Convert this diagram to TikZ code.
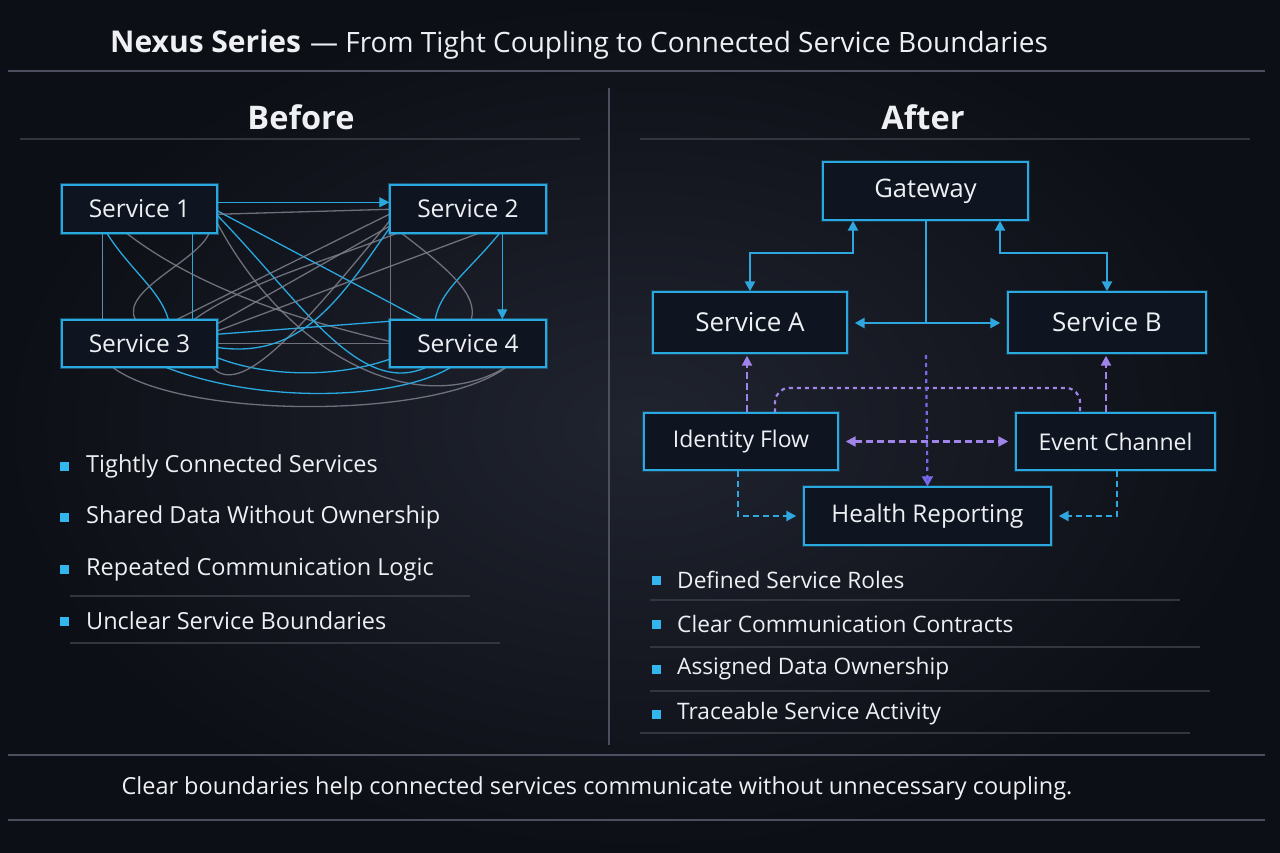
\documentclass[tikz,border=0pt]{standalone}
\usepackage{fontspec}
\setmainfont{Open Sans}
\usetikzlibrary{arrows.meta,calc}
\definecolor{bgmid}{HTML}{20242F}
\definecolor{bgout}{HTML}{0D0F16}
\definecolor{boxfill}{HTML}{0E1520}
\definecolor{cyanb}{HTML}{2AA8E0}
\definecolor{txt}{HTML}{EEF0F4}
\definecolor{sep}{HTML}{4C505E}
\definecolor{sepdim}{HTML}{32363F}
\definecolor{grayl}{HTML}{7E818D}
\definecolor{mixl}{HTML}{5C8FB4}
\definecolor{purp}{HTML}{A084EA}
\definecolor{indig}{HTML}{5B58E6}
\definecolor{bluel}{HTML}{2FA6DE}
\definecolor{bulc}{HTML}{33B6EE}
\begin{document}
\begin{tikzpicture}[x=1pt,y=-1pt,
  box/.style={draw=cyanb, line width=1.4pt, fill=boxfill, text=txt, inner sep=0pt,
    preaction={draw=cyanb, line width=4.5pt, draw opacity=0.22},
    font=\fontsize{24.5}{28}\selectfont},
  tg/.style={draw=grayl, line width=1.3pt, draw opacity=0.85},
  tb/.style={draw=cyanb, line width=1.3pt},
  tm/.style={draw=mixl, line width=1.3pt},
  flow/.style={draw=bluel, line width=2.4pt},
  tip/.style={-{Triangle[length=10pt,width=10pt]}},
  tips/.style={{Triangle[length=10pt,width=10pt]}-{Triangle[length=10pt,width=10pt]}},
  pdash/.style={draw=purp, line width=2.2pt, dash pattern=on 7pt off 4pt},
  pdot/.style={draw=purp, line width=2.2pt, dash pattern=on 4pt off 4pt},
  bdash/.style={draw=bluel, line width=2.2pt, dash pattern=on 6pt off 4pt},
  bullet/.style={fill=bulc, minimum size=9pt, inner sep=0pt},
  btext/.style={anchor=west, text=txt, inner sep=0pt, font=\fontsize{23.5}{27}\selectfont},
  rtext/.style={btext, font=\fontsize{22.7}{26}\selectfont},
  head/.style={text=txt, font=\fontsize{32.5}{36}\selectfont\bfseries},
  seph/.style={draw=sep, line width=2.6pt},
  sepl/.style={draw=sepdim, line width=1.6pt}
]
% background
\shade[inner color=bgmid, outer color=bgout] (0,0) rectangle (1280,853);
\useasboundingbox (0,0) rectangle (1280,853);

% title and frame lines
\node[anchor=base west, text=txt, inner sep=0pt] (title) at (110,53)
  {{\fontsize{30}{34}\selectfont\bfseries Nexus Series}\hspace{9pt}{\fontsize{28}{32}\selectfont — From Tight Coupling to Connected Service Boundaries}};
\coordinate (tl) at (8,71); \coordinate (tr) at (1265,71);
\draw[seph] (tl) -- (tr);
\coordinate (dv1) at (609,88); \coordinate (dv2) at (609,745);
\draw[draw=sep, line width=1.6pt] (dv1) -- (dv2);
\coordinate (bl1) at (8,755); \coordinate (br1) at (1265,755);
\coordinate (bl2) at (8,820); \coordinate (br2) at (1265,820);
\draw[seph] (bl1) -- (br1);
\draw[seph] (bl2) -- (br2);
\node[text=txt, inner sep=0pt] (foot) at (597,788)
  {\fontsize{23.5}{27}\selectfont Clear boundaries help connected services communicate without unnecessary coupling.};

% section heads
\node[head] (before) at (301,117) {Before};
\node[head] (after) at (923,117) {After};
\coordinate (u1a) at (20,139); \coordinate (u1b) at (580,139);
\coordinate (u2a) at (640,139); \coordinate (u2b) at (1250,139);
\draw[sepl] (u1a) -- (u1b);
\draw[sepl] (u2a) -- (u2b);

% ---------- BEFORE ----------
\node[box, minimum width=155pt, minimum height=48pt] (s1) at (139.5,209) {Service 1};
\node[box, minimum width=156pt, minimum height=48pt] (s2) at (468,209) {Service 2};
\node[box, minimum width=155pt, minimum height=47pt] (s3) at (139.5,343.5) {Service 3};
\node[box, minimum width=156pt, minimum height=47pt] (s4) at (468,343.5) {Service 4};

\draw[tm] ($(s1.north west)+(41,48)$) -- ($(s3.north west)+(41,0)$);
\draw[tb] ($(s1.north west)+(131,48)$) -- ($(s3.north west)+(131,0)$);
\draw[tg] ($(s2.north west)+(1,48)$) -- ($(s4.north west)+(1,0)$);
\draw[tb,tip] ($(s2.north west)+(113,48)$) -- ($(s4.north west)+(113,0)$);
\draw[tb] ($(s1.north west)+(45,48)$) .. controls (130,270) and (160,290) .. ($(s3.north west)+(107,0)$);
\draw[tg] ($(s1.north west)+(64,48)$) .. controls (200,290) and (300,320) .. ($(s4.north west)+(0,22)$);
\draw[tb] ($(s1.north west)+(155,26)$) -- ($(s4.north west)+(32,0)$);
\draw[tb] ($(s1.north west)+(155,30)$) .. controls (300,300) and (360,400) .. ($(s4.north west)+(39,47)$);
\draw[tg] ($(s1.north west)+(155,37)$) .. controls (290,360) and (420,420) .. ($(s4.north west)+(118,47)$);
\draw[tg] ($(s3.north west)+(116,0)$) -- ($(s2.north west)+(0,30)$);
\draw[tg] ($(s3.north west)+(155,12)$) -- ($(s2.north west)+(92,48)$);
\draw[tg] ($(s3.north west)+(133,0)$) .. controls (250,280) and (330,260) .. ($(s2.north west)+(10,48)$);
\draw[tg] ($(s3.north west)+(74,0)$) .. controls (120,290) and (200,260) .. ($(s1.north west)+(148,48)$);
\draw[tg] (s3.east) -- (s4.west);
\draw[tb] ($(s3.north west)+(155,15)$) -- ($(s4.north west)+(0,2)$);
\draw[tb] ($(s2.north west)+(111,48)$) .. controls (470,270) and (440,290) .. ($(s4.north west)+(46,0)$);
\draw[tg] ($(s2.north west)+(11,48)$) .. controls (450,270) and (478,295) .. ($(s4.north west)+(82,0)$);
\draw[tb] ($(s3.north west)+(155,38)$) .. controls (260,375) and (330,380) .. ($(s4.north west)+(0,40)$);
\draw[tg] ($(s3.north west)+(50,47)$) .. controls (180,420) and (440,420) .. ($(s4.north west)+(118,47)$);
\draw[tb] ($(s3.north west)+(102,47)$) .. controls (260,405) and (400,400) .. ($(s4.north west)+(63,47)$);
\draw[tg] ($(s2.north west)+(0,37)$) .. controls (300,330) and (240,400) .. ($(s3.north west)+(150,47)$);
\draw[tg] ($(s1.north west)+(155,30)$) -- ($(s2.north west)+(0,25)$);
\draw[tg] ($(s3.north west)+(155,5)$) -- ($(s2.north west)+(0,42)$);
\draw[tb] ($(s3.north west)+(155,28)$) .. controls (300,360) and (340,300) .. ($(s2.north west)+(0,44)$);
\draw[tb,tip] ($(s1.north west)+(155,18)$) -- ($(s2.north west)+(0,18)$);
% redraw boxes on top
\node[box, minimum width=155pt, minimum height=48pt] at (s1) {Service 1};
\node[box, minimum width=156pt, minimum height=48pt] at (s2) {Service 2};
\node[box, minimum width=155pt, minimum height=47pt] at (s3) {Service 3};
\node[box, minimum width=156pt, minimum height=47pt] at (s4) {Service 4};

% bullets left
\node[bullet] (lb1) at (64,466) {}; \node[btext] (lt1) at (86,466) {Tightly Connected Services};
\node[bullet] (lb2) at (64,517) {}; \node[btext] (lt2) at (86,517) {Shared Data Without Ownership};
\node[bullet] (lb3) at (64,569) {}; \node[btext] (lt3) at (86,569) {Repeated Communication Logic};
\node[bullet] (lb4) at (64,621) {}; \node[btext] (lt4) at (86,621) {Unclear Service Boundaries};
\coordinate (ll1a) at (70,596); \coordinate (ll1b) at (470,596);
\coordinate (ll2a) at (70,643); \coordinate (ll2b) at (500,643);
\draw[sepl, line width=1.2pt] (ll1a) -- (ll1b);
\draw[sepl, line width=1.2pt] (ll2a) -- (ll2b);

% ---------- AFTER ----------
\node[box, minimum width=205pt, minimum height=58pt, font=\fontsize{25.5}{29}\selectfont] (gw) at (925.5,191) {Gateway};
\node[box, minimum width=194pt, minimum height=61pt, font=\fontsize{26}{30}\selectfont] (sa) at (750,322.5) {Service A};
\node[box, minimum width=198pt, minimum height=61pt, font=\fontsize{26}{30}\selectfont] (sb) at (1107,322.5) {Service B};
\node[box, minimum width=194pt, minimum height=57pt, font=\fontsize{23}{27}\selectfont] (idf) at (741,441.5) {Identity Flow};
\node[box, minimum width=199pt, minimum height=57pt, font=\fontsize{23}{27}\selectfont] (ec) at (1115.5,441.5) {Event Channel};
\node[box, minimum width=247pt, minimum height=58pt, font=\fontsize{24.3}{28}\selectfont] (hr) at (927.5,516) {Health Reporting};

\coordinate (ga) at (853,253);
\coordinate (gb) at (1000,253);
\coordinate (gc) at (926,323);
\draw[flow,tips] (gw.south -| ga) -- (ga) -| (sa.north);
\draw[flow,tips] (gw.south -| gb) -- (gb) -| (sb.north);
\draw[flow] (gw.south -| gc) -- (gc);
\draw[flow,tips,shorten <=7pt,shorten >=7pt] (sa.east |- gc) -- (sb.west |- gc);

\coordinate (pa) at (747,0);
\coordinate (pb) at (1106,0);
\coordinate (pl) at (775,0);
\coordinate (pr) at (1080,0);
\coordinate (pm) at (0,388);
\coordinate (pc) at (926,355);
\draw[pdash,tip,shorten >=2pt] (pa |- idf.north) -- (pa |- sa.south);
\draw[pdash,tip,shorten >=2pt] (pb |- ec.north) -- (pb |- sb.south);
\draw[pdot, rounded corners=14pt] (pl |- idf.north) -- (pl |- pm) -- (pr |- pm) -- (pr |- ec.north);
\draw[pdot, draw=indig!60!purp, -{Triangle[length=10pt,width=11pt,fill=indig]}] (pc) -- (hr.north);
\draw[pdash,tips,shorten <=7pt,shorten >=7pt] (idf.east) -- (ec.west);
\coordinate (ha) at (738,0);
\coordinate (hb) at (1117,0);
\draw[bdash,tip,shorten >=7pt] (ha |- idf.south) |- (hr.west);
\draw[bdash,tip,shorten >=7pt] (hb |- ec.south) |- (hr.east);

% bullets right
\node[bullet] (rb1) at (656,580) {}; \node[rtext] (rt1) at (677,580) {Defined Service Roles};
\node[bullet] (rb2) at (656,624) {}; \node[rtext] (rt2) at (677,624) {Clear Communication Contracts};
\node[bullet] (rb3) at (656,669) {}; \node[rtext] (rt3) at (677,669) {Assigned Data Ownership};
\node[bullet] (rb4) at (656,714) {}; \node[rtext] (rt4) at (677,714) {Traceable Service Activity};
\coordinate (rl1a) at (650,600); \coordinate (rl1b) at (1180,600);
\coordinate (rl2a) at (650,647); \coordinate (rl2b) at (1200,647);
\coordinate (rl3a) at (650,691); \coordinate (rl3b) at (1210,691);
\coordinate (rl4a) at (640,733); \coordinate (rl4b) at (1190,733);
\draw[sepl, line width=1.2pt] (rl1a) -- (rl1b);
\draw[sepl, line width=1.2pt] (rl2a) -- (rl2b);
\draw[sepl, line width=1.2pt] (rl3a) -- (rl3b);
\draw[sepl, line width=1.2pt] (rl4a) -- (rl4b);
\end{tikzpicture}
\end{document}
